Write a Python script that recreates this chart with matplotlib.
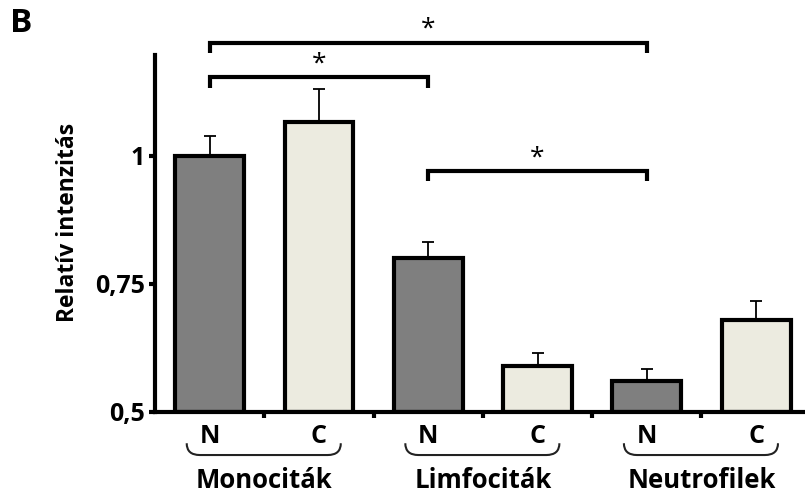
import matplotlib
matplotlib.use("Agg")
import matplotlib.pyplot as plt
from matplotlib.path import Path
from matplotlib.patches import PathPatch
import numpy as np

# ---- data ----
groups = ["Monociták", "Limfociták", "Neutrofilek"]
conditions = ["N", "C"]
values = [1.00, 1.066, 0.801, 0.589, 0.561, 0.680]
errors = [0.038, 0.065, 0.031, 0.027, 0.023, 0.037]
bar_colors = ["#7f7f7f", "#ecebe0", "#7f7f7f", "#ecebe0", "#7f7f7f", "#ecebe0"]
yticks = [0.5, 0.75, 1.0]
yticklabels = ["0,5", "0,75", "1"]
ylabel = "Relatív intenzitás"
# significance pairs (bar indices)
sig_pairs = [(0, 4), (0, 2), (2, 4)]

plt.rcParams['font.family'] = ['Open Sans', 'DejaVu Sans']
plt.rcParams['font.weight'] = 'bold'

W, H = 805, 495
fig = plt.figure(figsize=(W / 100, H / 100), dpi=100)
ax = fig.add_axes([155 / W, 83 / H, (805 - 155) / W, (440 - 83) / H])

x = np.arange(len(values))
ax.bar(x, np.array(values) - 0.5, bottom=0.5, width=0.63, color=bar_colors,
       edgecolor="black", linewidth=3, zorder=2)
ax.errorbar(x, values, yerr=[np.zeros(len(errors)), errors], fmt="none",
            ecolor="black", elinewidth=1.3, capsize=4, capthick=1.3, zorder=1)

ax.set_xlim(-0.5, 5.447)
ax.set_ylim(0.5, 1.197)
for s in ["top", "right"]:
    ax.spines[s].set_visible(False)
ax.spines["left"].set_linewidth(3)
ax.spines["bottom"].set_linewidth(3)
ax.set_yticks(yticks)
ax.set_yticklabels(yticklabels, fontsize=18, fontweight="bold")
ax.tick_params(axis="y", length=4, width=3, pad=3)
ax.set_xticks(np.arange(0.5, 5, 1.0))
ax.set_xticklabels([])
ax.tick_params(axis="x", length=4, width=3)
ax.set_ylabel(ylabel, fontsize=16.5, fontweight="bold", labelpad=12)
ax.yaxis.set_label_coords(-0.115, 0.53)

# N / C labels and braces, group labels
for gi, g in enumerate(groups):
    x0, x1 = 2 * gi, 2 * gi + 1
    ax.text(x0, 0.452, conditions[0], ha="center", va="center", fontsize=18,
            fontweight="bold", clip_on=False)
    ax.text(x1, 0.452, conditions[1], ha="center", va="center", fontsize=18,
            fontweight="bold", clip_on=False)
    # brace
    xl, xr = x0 - 0.21, x1 + 0.2
    yt, yb = 0.439, 0.416
    verts = [(xl, yt), (xl, yb), (xl + 0.12, yb),
             (xr - 0.12, yb), (xr, yb), (xr, yt)]
    codes = [Path.MOVETO, Path.CURVE3, Path.CURVE3,
             Path.LINETO, Path.CURVE3, Path.CURVE3]
    ax.add_patch(PathPatch(Path(verts, codes), fill=False, lw=1.5,
                           edgecolor="#222222", clip_on=False))
    ax.text((x0 + x1) / 2, 0.366, g, ha="center", va="center", fontsize=18.5,
            fontweight="bold", clip_on=False)

# significance brackets
bracket_y = [(1.2207, 1.201, 1.248), (1.154, 1.133, 1.180), (0.971, 0.951, 0.995)]
for (i, j), (yl, yd, ys) in zip(sig_pairs, bracket_y):
    ax.plot([x[i], x[i], x[j], x[j]], [yd, yl, yl, yd], color="black",
            lw=3, solid_capstyle="butt", solid_joinstyle="miter",
            clip_on=False)
    ax.text((x[i] + x[j]) / 2, ys, "*", ha="center", va="center",
            fontsize=19, fontweight="normal", clip_on=False)

fig.text(10 / W, 1 - 23 / H, "B", fontsize=24, fontweight="bold",
         ha="left", va="center")

fig.savefig("out.png", dpi=100)
